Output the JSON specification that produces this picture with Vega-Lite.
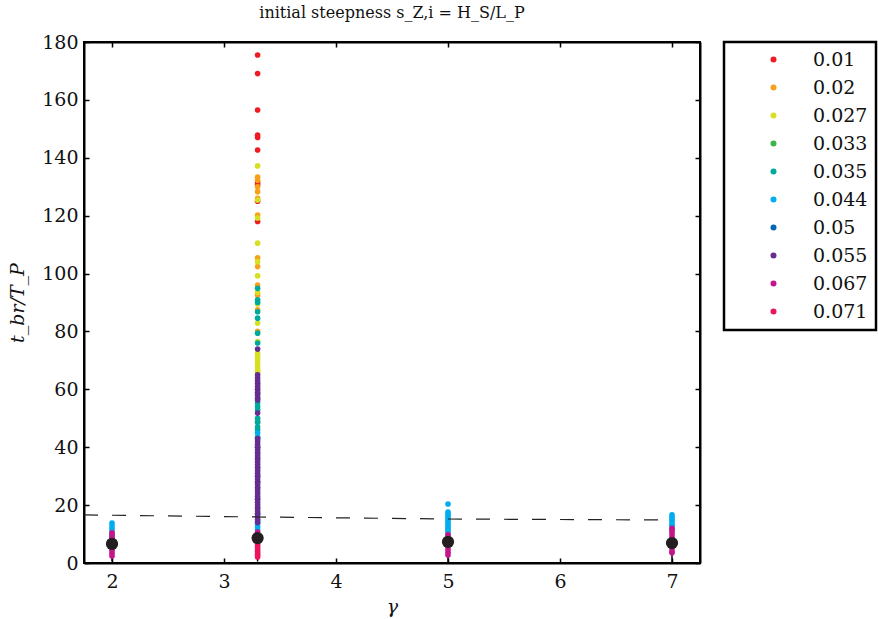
{
  "$schema": "https://vega.github.io/schema/vega-lite/v6.json",
  "autosize": {"type": "none"},
  "padding": {"left": 84, "top": 42, "right": 178, "bottom": 56},
  "width": 616,
  "height": 521,
  "background": "white",
  "title": {"text": "initial steepness s_Z,i = H_S/L_P", "font": "DejaVu Serif", "fontSize": 16, "fontWeight": "normal", "color": "#111", "offset": 12, "anchor": "middle"},
  "config": {
    "view": {"stroke": "black", "strokeWidth": 2},
    "axis": {"labelFont": "DejaVu Serif", "titleFont": "DejaVu Serif", "labelFontSize": 19, "titleFontSize": 19, "labelColor": "#111", "titleColor": "#111", "domainColor": "black", "domainWidth": 2, "tickColor": "black", "tickWidth": 1.5, "grid": false, "titleFontWeight": "normal"},
    "legend": {"strokeWidth": 2.5}
  },
  "datasets": {
    "pts": [
      {"g": 3.3, "s": "0.01", "v": 175.5}, {"g": 3.3, "s": "0.01", "v": 169.1}, {"g": 3.3, "s": "0.01", "v": 156.5}, {"g": 3.3, "s": "0.01", "v": 147.8}, {"g": 3.3, "s": "0.01", "v": 147.0}, {"g": 3.3, "s": "0.01", "v": 142.7}, {"g": 3.3, "s": "0.01", "v": 131.5}, {"g": 3.3, "s": "0.01", "v": 130.6}, {"g": 3.3, "s": "0.01", "v": 125.0}, {"g": 3.3, "s": "0.01", "v": 118.0},
      {"g": 3.3, "s": "0.02", "v": 133.3}, {"g": 3.3, "s": "0.02", "v": 132.2}, {"g": 3.3, "s": "0.02", "v": 130.0}, {"g": 3.3, "s": "0.02", "v": 128.3}, {"g": 3.3, "s": "0.02", "v": 126.0}, {"g": 3.3, "s": "0.02", "v": 120.2}, {"g": 3.3, "s": "0.02", "v": 105.4}, {"g": 3.3, "s": "0.02", "v": 102.4}, {"g": 3.3, "s": "0.02", "v": 96.0}, {"g": 3.3, "s": "0.02", "v": 92.5}, {"g": 3.3, "s": "0.02", "v": 87.5}, {"g": 3.3, "s": "0.02", "v": 80.0}, {"g": 3.3, "s": "0.02", "v": 66.0}, {"g": 3.3, "s": "0.02", "v": 60.0}, {"g": 3.3, "s": "0.02", "v": 57.0},
      {"g": 3.3, "s": "0.027", "v": 137.2}, {"g": 3.3, "s": "0.027", "v": 125.4}, {"g": 3.3, "s": "0.027", "v": 119.2}, {"g": 3.3, "s": "0.027", "v": 110.5}, {"g": 3.3, "s": "0.027", "v": 104.1}, {"g": 3.3, "s": "0.027", "v": 99.2}, {"g": 3.3, "s": "0.027", "v": 93.5}, {"g": 3.3, "s": "0.027", "v": 89.5}, {"g": 3.3, "s": "0.027", "v": 82.9}, {"g": 3.3, "s": "0.027", "v": 76.5}, {"g": 3.3, "s": "0.027", "v": 72.5}, {"g": 3.3, "s": "0.027", "v": 71.5}, {"g": 3.3, "s": "0.027", "v": 70.5}, {"g": 3.3, "s": "0.027", "v": 69.5}, {"g": 3.3, "s": "0.027", "v": 68.5}, {"g": 3.3, "s": "0.027", "v": 67.5}, {"g": 3.3, "s": "0.027", "v": 66.5}, {"g": 3.3, "s": "0.027", "v": 62.0},
      {"g": 3.3, "s": "0.033", "v": 58.5}, {"g": 3.3, "s": "0.033", "v": 49.0}, {"g": 3.3, "s": "0.033", "v": 33.0}, {"g": 3.3, "s": "0.033", "v": 26.0}, {"g": 3.3, "s": "0.033", "v": 19.0},
      {"g": 3.3, "s": "0.035", "v": 94.9}, {"g": 3.3, "s": "0.035", "v": 90.9}, {"g": 3.3, "s": "0.035", "v": 90.0}, {"g": 3.3, "s": "0.035", "v": 86.8}, {"g": 3.3, "s": "0.035", "v": 84.6}, {"g": 3.3, "s": "0.035", "v": 79.4}, {"g": 3.3, "s": "0.035", "v": 76.0}, {"g": 3.3, "s": "0.035", "v": 55.3}, {"g": 3.3, "s": "0.035", "v": 54.0}, {"g": 3.3, "s": "0.035", "v": 52.9}, {"g": 3.3, "s": "0.035", "v": 50.0}, {"g": 3.3, "s": "0.035", "v": 48.5}, {"g": 3.3, "s": "0.035", "v": 47.0}, {"g": 3.3, "s": "0.035", "v": 46.0}, {"g": 3.3, "s": "0.035", "v": 43.5}, {"g": 3.3, "s": "0.035", "v": 36.0}, {"g": 3.3, "s": "0.035", "v": 30.0}, {"g": 3.3, "s": "0.035", "v": 22.0},
      {"g": 3.3, "s": "0.044", "v": 44.9}, {"g": 3.3, "s": "0.044", "v": 43.0}, {"g": 3.3, "s": "0.044", "v": 38.0}, {"g": 3.3, "s": "0.044", "v": 14.5}, {"g": 3.3, "s": "0.044", "v": 13.5}, {"g": 3.3, "s": "0.044", "v": 12.5}, {"g": 3.3, "s": "0.044", "v": 11.5},
      {"g": 2, "s": "0.044", "v": 13.8}, {"g": 2, "s": "0.044", "v": 12.8}, {"g": 2, "s": "0.044", "v": 11.8}, {"g": 2, "s": "0.044", "v": 10.8}, {"g": 2, "s": "0.044", "v": 9.8}, {"g": 2, "s": "0.044", "v": 8.8}, {"g": 2, "s": "0.044", "v": 8.0},
      {"g": 5, "s": "0.044", "v": 20.4}, {"g": 5, "s": "0.044", "v": 17.6}, {"g": 5, "s": "0.044", "v": 16.8}, {"g": 5, "s": "0.044", "v": 16.0}, {"g": 5, "s": "0.044", "v": 15.2}, {"g": 5, "s": "0.044", "v": 14.4}, {"g": 5, "s": "0.044", "v": 13.6}, {"g": 5, "s": "0.044", "v": 12.8}, {"g": 5, "s": "0.044", "v": 12.0}, {"g": 5, "s": "0.044", "v": 11.2}, {"g": 5, "s": "0.044", "v": 10.4}, {"g": 5, "s": "0.044", "v": 9.7},
      {"g": 7, "s": "0.044", "v": 16.6}, {"g": 7, "s": "0.044", "v": 15.8}, {"g": 7, "s": "0.044", "v": 15.0}, {"g": 7, "s": "0.044", "v": 14.2}, {"g": 7, "s": "0.044", "v": 13.4}, {"g": 7, "s": "0.044", "v": 12.6}, {"g": 7, "s": "0.044", "v": 11.8},
      {"g": 3.3, "s": "0.05", "v": 40.0}, {"g": 3.3, "s": "0.05", "v": 28.0}, {"g": 3.3, "s": "0.05", "v": 17.0},
      {"g": 3.3, "s": "0.055", "v": 73.9}, {"g": 3.3, "s": "0.055", "v": 65}, {"g": 3.3, "s": "0.055", "v": 64}, {"g": 3.3, "s": "0.055", "v": 63}, {"g": 3.3, "s": "0.055", "v": 62}, {"g": 3.3, "s": "0.055", "v": 61}, {"g": 3.3, "s": "0.055", "v": 60}, {"g": 3.3, "s": "0.055", "v": 59}, {"g": 3.3, "s": "0.055", "v": 58}, {"g": 3.3, "s": "0.055", "v": 57}, {"g": 3.3, "s": "0.055", "v": 56.3}, {"g": 3.3, "s": "0.055", "v": 51.8},
      {"g": 3.3, "s": "0.055", "v": 43}, {"g": 3.3, "s": "0.055", "v": 42}, {"g": 3.3, "s": "0.055", "v": 41}, {"g": 3.3, "s": "0.055", "v": 40}, {"g": 3.3, "s": "0.055", "v": 39}, {"g": 3.3, "s": "0.055", "v": 38}, {"g": 3.3, "s": "0.055", "v": 37}, {"g": 3.3, "s": "0.055", "v": 36}, {"g": 3.3, "s": "0.055", "v": 35}, {"g": 3.3, "s": "0.055", "v": 34}, {"g": 3.3, "s": "0.055", "v": 33}, {"g": 3.3, "s": "0.055", "v": 32}, {"g": 3.3, "s": "0.055", "v": 31}, {"g": 3.3, "s": "0.055", "v": 30}, {"g": 3.3, "s": "0.055", "v": 29}, {"g": 3.3, "s": "0.055", "v": 28}, {"g": 3.3, "s": "0.055", "v": 27}, {"g": 3.3, "s": "0.055", "v": 26}, {"g": 3.3, "s": "0.055", "v": 25}, {"g": 3.3, "s": "0.055", "v": 24}, {"g": 3.3, "s": "0.055", "v": 23}, {"g": 3.3, "s": "0.055", "v": 22}, {"g": 3.3, "s": "0.055", "v": 21}, {"g": 3.3, "s": "0.055", "v": 20}, {"g": 3.3, "s": "0.055", "v": 19}, {"g": 3.3, "s": "0.055", "v": 18}, {"g": 3.3, "s": "0.055", "v": 17}, {"g": 3.3, "s": "0.055", "v": 16}, {"g": 3.3, "s": "0.055", "v": 15}, {"g": 3.3, "s": "0.055", "v": 14},
      {"g": 3.3, "s": "0.067", "v": 10.7}, {"g": 3.3, "s": "0.067", "v": 9.5}, {"g": 3.3, "s": "0.067", "v": 8.0}, {"g": 3.3, "s": "0.067", "v": 7.0},
      {"g": 2, "s": "0.067", "v": 10.4}, {"g": 2, "s": "0.067", "v": 9.4}, {"g": 2, "s": "0.067", "v": 8.4}, {"g": 2, "s": "0.067", "v": 7.4}, {"g": 2, "s": "0.067", "v": 6.4}, {"g": 2, "s": "0.067", "v": 5.4}, {"g": 2, "s": "0.067", "v": 4.4}, {"g": 2, "s": "0.067", "v": 3.4}, {"g": 2, "s": "0.067", "v": 2.4},
      {"g": 5, "s": "0.067", "v": 9.7}, {"g": 5, "s": "0.067", "v": 8.7}, {"g": 5, "s": "0.067", "v": 7.7}, {"g": 5, "s": "0.067", "v": 6.7}, {"g": 5, "s": "0.067", "v": 5.7}, {"g": 5, "s": "0.067", "v": 4.7}, {"g": 5, "s": "0.067", "v": 3.7}, {"g": 5, "s": "0.067", "v": 2.8},
      {"g": 7, "s": "0.067", "v": 12.0}, {"g": 7, "s": "0.067", "v": 11.0}, {"g": 7, "s": "0.067", "v": 10.0}, {"g": 7, "s": "0.067", "v": 9.0}, {"g": 7, "s": "0.067", "v": 8.0}, {"g": 7, "s": "0.067", "v": 7.0}, {"g": 7, "s": "0.067", "v": 6.0}, {"g": 7, "s": "0.067", "v": 5.0}, {"g": 7, "s": "0.067", "v": 4.0}, {"g": 7, "s": "0.067", "v": 3.5},
      {"g": 3.3, "s": "0.071", "v": 6.2}, {"g": 3.3, "s": "0.071", "v": 5.5}, {"g": 3.3, "s": "0.071", "v": 4.8}, {"g": 3.3, "s": "0.071", "v": 4.1}, {"g": 3.3, "s": "0.071", "v": 3.4}, {"g": 3.3, "s": "0.071", "v": 2.7}, {"g": 3.3, "s": "0.071", "v": 2.1}
    ],
    "means": [
      {"g": 2, "m": 6.6, "lo": 0.5},
      {"g": 3.3, "m": 8.6, "lo": 0.5},
      {"g": 5, "m": 7.3, "lo": 0.3},
      {"g": 7, "m": 6.9, "lo": 0.3}
    ],
    "dash": [
      {"g": 1.75, "t": 16.6},
      {"g": 2, "t": 16.5},
      {"g": 3.3, "t": 15.9},
      {"g": 5, "t": 15.2},
      {"g": 7, "t": 14.85}
    ]
  },
  "resolve": {"axis": {"x": "independent", "y": "independent"}},
  "layer": [
    {
      "data": {"name": "means"},
      "mark": {"type": "rule", "color": "black", "strokeWidth": 1.5},
      "encoding": {
        "x": {"field": "g", "type": "quantitative", "scale": {"domain": [1.75, 7.25], "nice": false, "zero": false},
              "axis": {"orient": "bottom", "values": [2, 3, 4, 5, 6, 7], "tickSize": -5, "labelPadding": 14, "title": "γ", "titleFontStyle": "italic", "titlePadding": 6}},
        "y": {"field": "lo", "type": "quantitative", "scale": {"domain": [0, 180], "nice": false},
              "axis": {"orient": "left", "values": [0, 20, 40, 60, 80, 100, 120, 140, 160, 180], "tickSize": -5, "labelPadding": 11, "title": "t_br/T_P", "titleFontStyle": "italic", "titlePadding": 14}},
        "y2": {"field": "m"}
      }
    },
    {
      "data": {"name": "pts"},
      "mark": {"type": "circle", "size": 32, "opacity": 1},
      "encoding": {
        "x": {"field": "g", "type": "quantitative", "axis": null},
        "y": {"field": "v", "type": "quantitative", "axis": null},
        "color": {"field": "s", "type": "nominal",
          "scale": {"domain": ["0.01", "0.02", "0.027", "0.033", "0.035", "0.044", "0.05", "0.055", "0.067", "0.071"],
                    "range": ["#ed1c24", "#f7a11a", "#d7df23", "#39b54a", "#00a99d", "#00aeef", "#0067b3", "#662d91", "#c4168c", "#ec145b"]},
          "legend": {"title": null, "orient": "none", "legendX": 640, "legendY": 0, "strokeColor": "black", "fillColor": "white",
                     "padding": 8, "symbolType": "circle", "symbolSize": 36, "symbolOffset": 32, "labelOffset": 30,
                     "labelFont": "DejaVu Serif", "labelFontSize": 19, "labelColor": "#111", "rowPadding": 8, "symbolStrokeWidth": 0, "labelLimit": 300,
                     "labelExpr": "datum.label + '          '"}
        }
      }
    },
    {
      "data": {"name": "means"},
      "mark": {"type": "circle", "size": 150, "color": "#231f20", "opacity": 1},
      "encoding": {
        "x": {"field": "g", "type": "quantitative", "axis": null},
        "y": {"field": "m", "type": "quantitative", "axis": null}
      }
    },
    {
      "data": {"name": "dash"},
      "mark": {"type": "line", "color": "#222", "strokeWidth": 1.2, "strokeDash": [14, 14]},
      "encoding": {
        "x": {"field": "g", "type": "quantitative", "axis": {"orient": "top", "values": [2, 3, 4, 5, 6, 7], "tickSize": -5, "labels": false, "title": null}},
        "y": {"field": "t", "type": "quantitative", "axis": {"orient": "right", "values": [0, 20, 40, 60, 80, 100, 120, 140, 160, 180], "tickSize": -5, "labels": false, "title": null}}
      }
    }
  ]
}
